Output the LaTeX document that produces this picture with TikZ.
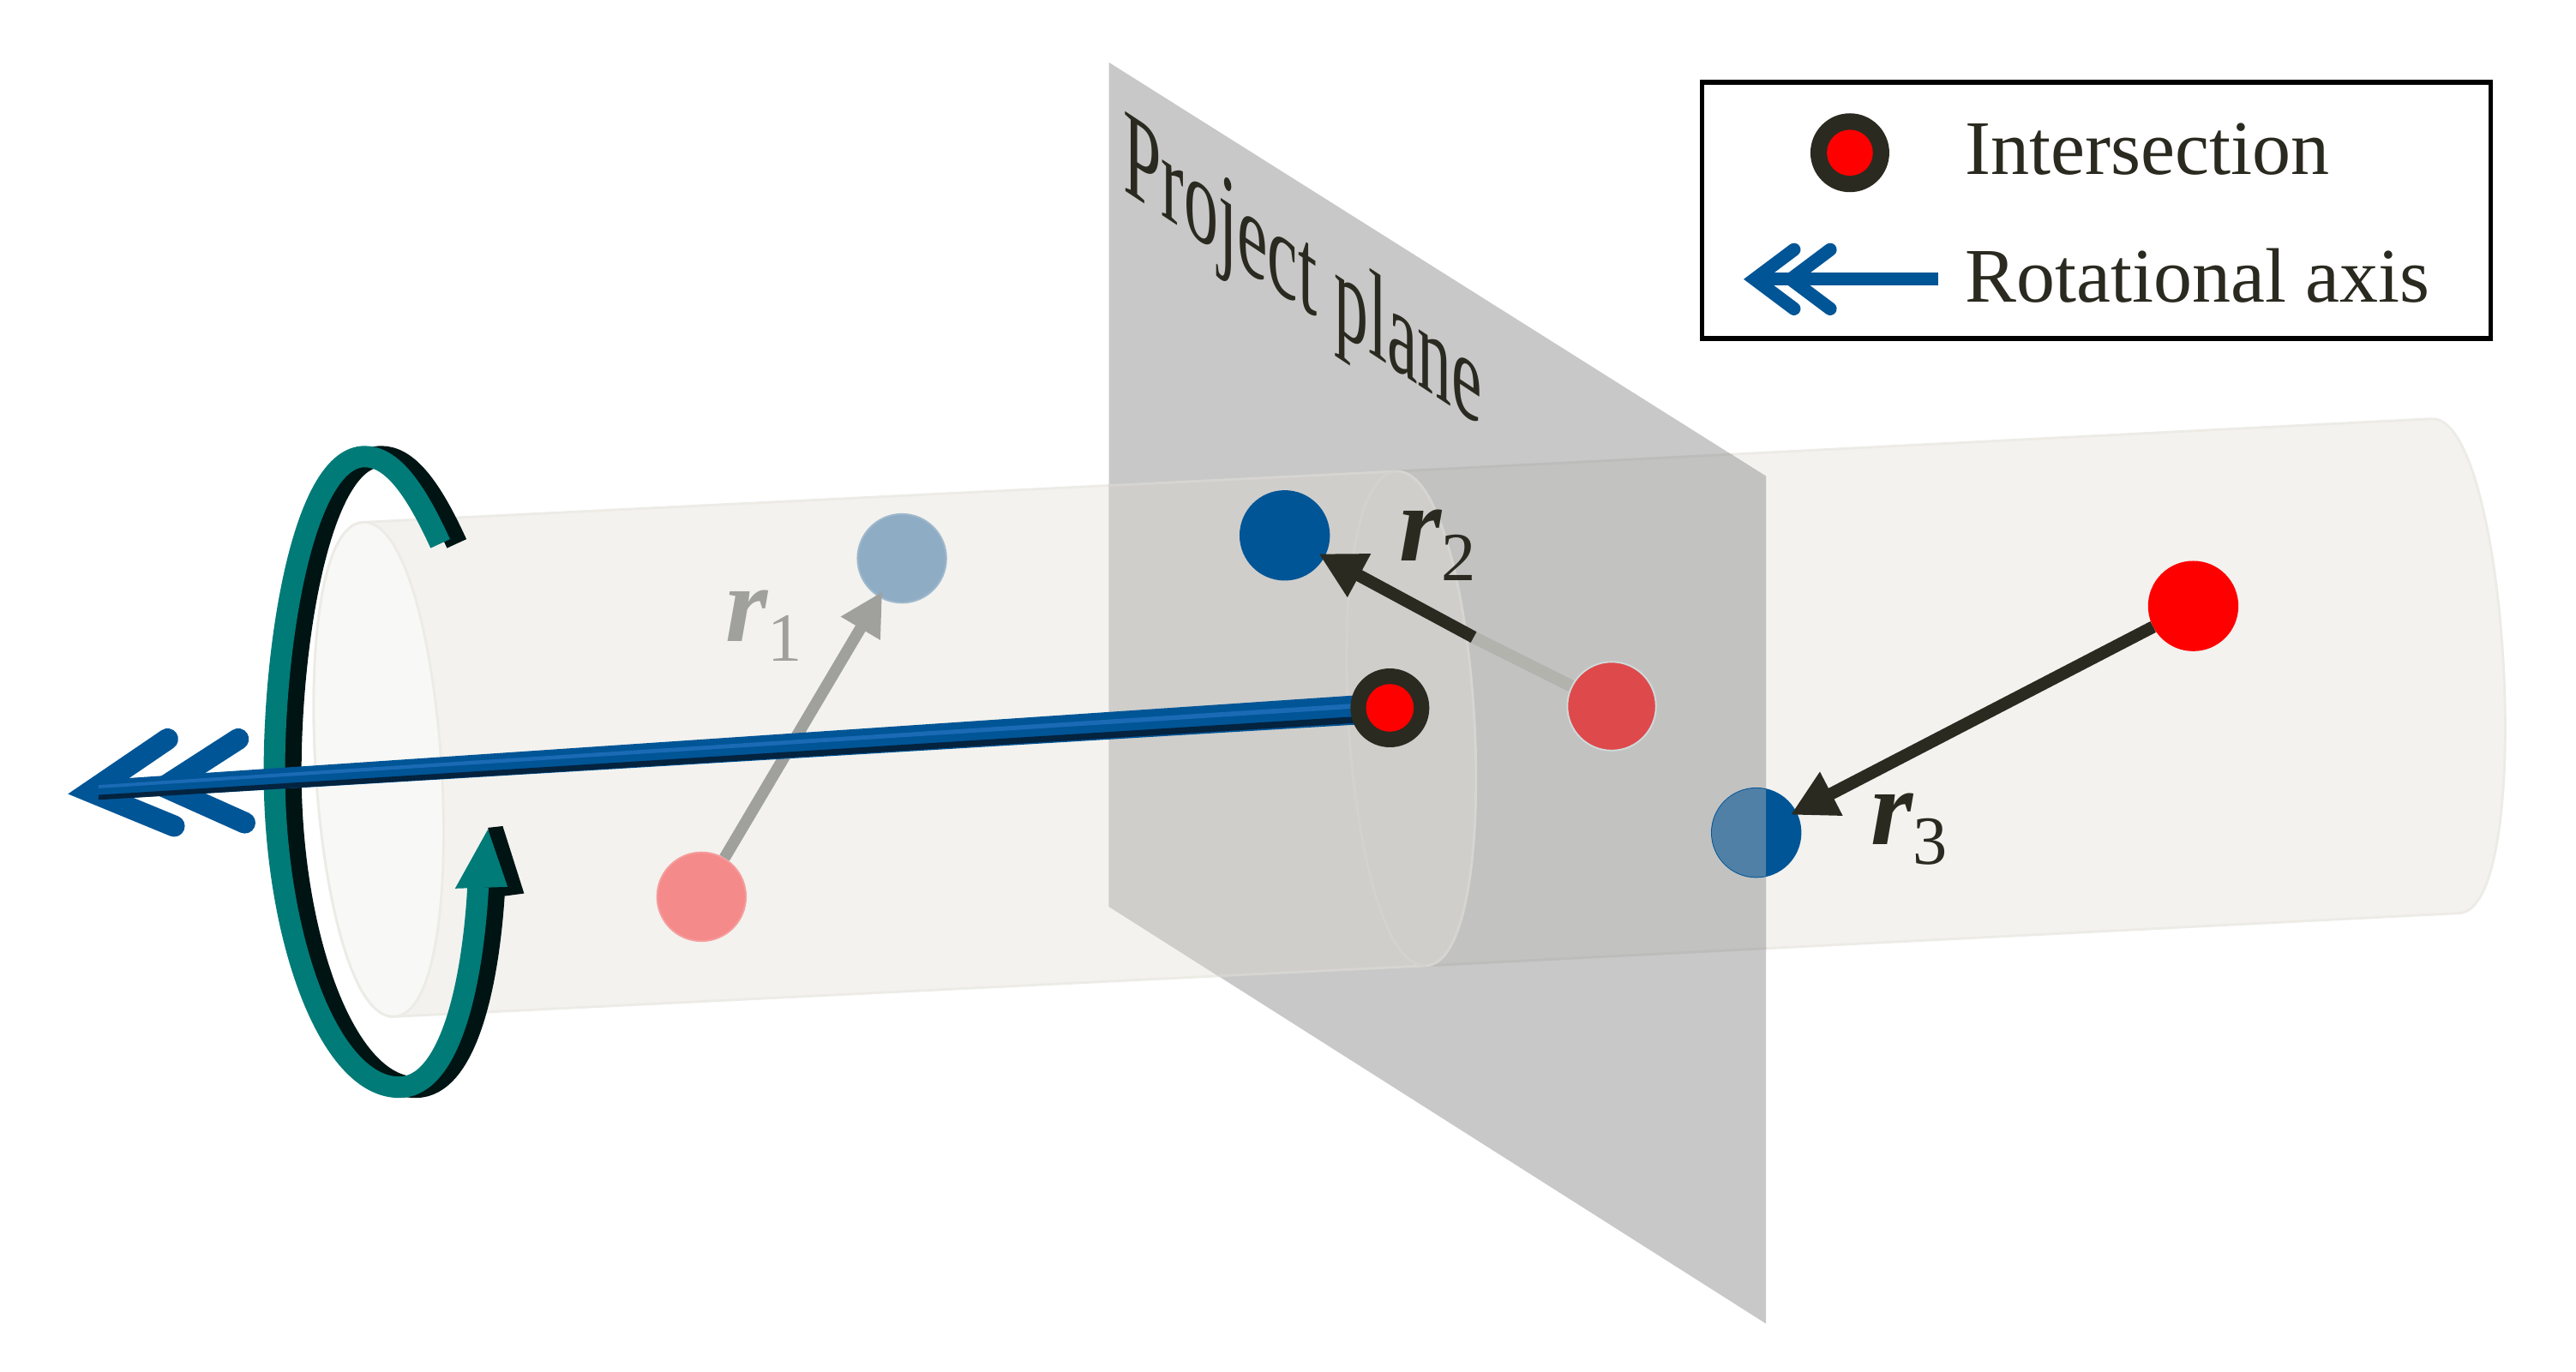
\documentclass[tikz,border=0pt]{standalone}
\usepackage{fontspec}
\setmainfont{Liberation Serif}
\usetikzlibrary{arrows.meta,calc}
\definecolor{ink}{HTML}{2A2A20}
\definecolor{cyl}{HTML}{F3F2EE}
\definecolor{cyledge}{HTML}{ECEBE6}
\definecolor{capface}{HTML}{F8F8F6}
\definecolor{planec}{HTML}{C8C8C8}
\definecolor{cylR}{HTML}{C2C2C1}
\definecolor{cylL}{HTML}{CFCECB}
\definecolor{midedge}{HTML}{D6D5D1}
\definecolor{bluedk}{HTML}{005596}
\definecolor{bluefade}{HTML}{8EACC4}
\definecolor{bluehalf}{HTML}{5080A6}
\definecolor{pinkc}{HTML}{F48A8A}
\definecolor{redsoft}{HTML}{DE4A4C}
\definecolor{halo}{HTML}{CFDADA}
\definecolor{axisdk}{HTML}{03233F}
\definecolor{axislt}{HTML}{1A6AB5}
\definecolor{teal1}{HTML}{007B78}
\definecolor{tealbk}{HTML}{001414}
\definecolor{fadearrow}{HTML}{A0A09C}
\definecolor{grayseg}{HTML}{B3B3AE}
\tikzset{
  dot/.style={circle,minimum size=54pt,inner sep=0pt,line width=1pt,draw=#1},
  lbl/.style={inner sep=0pt,text=ink},
  rvec/.style={line width=7.5pt,color=ink,-{Triangle[length=28pt,width=28pt]},shorten >=-4pt},
  chev/.style={line width=13pt,color=bluedk,line cap=round,line join=miter},
  legchev/.style={line width=8pt,color=bluedk,line cap=round,line join=miter},
  tealpath/.style={line width=13pt,line cap=butt,line join=round},
}
\def\rfont{\fontsize{66}{66}\selectfont\bfseries\itshape}
\def\sfont{\fontsize{42}{42}\selectfont}
\def\bodyL{(221,318) -- (850,287) .. controls (901,284.5) and (919,585.5) .. (868,588) -- (240,619) .. controls (189,621.5) and (170,320.5) .. (221,318) -- cycle}
\def\bodyR{(850,287) -- (1480,255) .. controls (1527,252.5) and (1544,553.5) .. (1497,556) -- (868,588) -- cycle}
\def\planepath{(675,38) -- (1075,290) -- (1075,806) -- (675,552) -- cycle}
\def\tealcurve{(268,331) .. controls (252,296) and (238,278) .. (222,278) .. controls (185,278) and (167,390) .. (167,470) .. controls (167,570) and (200,662) .. (243,662) .. controls (275,662) and (288,595) .. (291,540)}
\begin{document}
\begin{tikzpicture}[x=1pt,y=-1pt]
\useasboundingbox (0,0) rectangle (1568,835);
% cylinder
\fill[cyl,draw=cyledge,line width=1.5pt] \bodyR;
\fill[cyl,draw=cyledge,line width=1.5pt] \bodyL;
\fill[capface,draw=cyledge,line width=1.5pt] (221,318) .. controls (272,315.5) and (291,616.5) .. (240,619) .. controls (189,621.5) and (170,320.5) .. (221,318) -- cycle;
% plane
\fill[planec] \planepath;
\begin{scope}
  \clip \planepath;
  \fill[cylR,draw=cylR!97!black,line width=1.5pt] \bodyR;
  \fill[cylL,draw=midedge,line width=1.5pt] \bodyL;
  \draw[midedge!60!cylL,line width=1.5pt] (850,287) .. controls (799,289.5) and (817,590.5) .. (868,588);
\end{scope}
\begin{scope}[cm={0.563,-0.372,0,1,(793,170)}]
  \node[lbl,transform shape,font=\fontsize{74}{74}\selectfont] (ptitle) at (0,0) {Project plane};
\end{scope}
% points
\node[dot=bluefade!85!white,fill=bluefade] (b1) at (549,340) {};
\node[dot=pinkc!85!white,fill=pinkc] (p1) at (427,546) {};
\node[dot=bluedk,fill=bluedk] (b2) at (782,326) {};
\node[dot=halo,fill=redsoft] (p2) at (981,430) {};
\node[dot=bluedk,fill=bluedk] (b3) at (1069,507) {};
\begin{scope}
  \clip \planepath;
  \fill[bluehalf] (b3) circle (27pt);
\end{scope}
\node[dot=red,fill=red] (p3) at (1335,369) {};
% vectors
\coordinate (m2) at (897,388);
\draw[line width=7pt,color=fadearrow,-{Triangle[length=26pt,width=26pt]},shorten >=-4pt] (p1) -- (b1);
\draw[line width=7.5pt,color=grayseg] (p2) -- (m2);
\draw[rvec] (m2) -- (b2);
\draw[rvec] (p3) -- (b3);
\node[lbl,text=fadearrow] (r1) at (465,381) {{\rfont r}\raisebox{-12pt}{\sfont 1}};
\node[lbl] (r2) at (875,332) {{\rfont r}\raisebox{-12pt}{\sfont 2}};
\node[lbl] (r3) at (1162,505) {{\rfont r}\raisebox{-12pt}{\sfont 3}};
% rotation arrow
\begin{scope}[xshift=10pt]
  \draw[tealbk,tealpath] \tealcurve;
\end{scope}
\fill[tealbk] (297,504) -- (306,503) -- (319,544) -- (304,546) -- cycle;
\draw[teal1,tealpath] \tealcurve;
\fill[teal1] (297,505) -- (277,541) -- (309,540) -- cycle;
% axis
\coordinate (ic) at (846,431);
\coordinate (tip) at (60,481);
\coordinate (v1) at (55,482);
\coordinate (v2) at (100,479);
\coordinate (a1) at (102,450);
\coordinate (a2) at (106,503);
\coordinate (a3) at (145,450);
\coordinate (a4) at (149,501);
\draw[chev] (a1) -- (v1) -- (a2);
\draw[chev] (a3) -- (v2) -- (a4);
\fill[bluedk] ($(ic)+(0,-9)$) -- ($(tip)+(0,-6)$) -- ($(tip)+(0,6)$) -- ($(ic)+(0,9)$) -- cycle;
\fill[axisdk] ($(ic)+(0,4)$) -- ($(tip)+(0,3)$) -- ($(tip)+(0,6)$) -- ($(ic)+(0,8)$) -- cycle;
\fill[axislt] ($(ic)+(0,-4)$) -- ($(tip)+(0,-3)$) -- ($(tip)+(0,-1)$) -- ($(ic)+(0,-1)$) -- cycle;
\node[circle,fill=ink,minimum size=48pt,inner sep=0pt] (inter) at (ic) {};
\node[circle,fill=red,minimum size=29pt,inner sep=0pt] (interc) at (ic) {};
% legend
\node[draw=black,line width=3pt,fill=white,minimum width=480pt,minimum height=156pt,inner sep=0pt] (legend) at (1276,128) {};
\node[circle,fill=ink,minimum size=48pt,inner sep=0pt] (lg1) at (1126,93) {};
\node[circle,fill=red,minimum size=28pt,inner sep=0pt] (lg1c) at (1126,93) {};
\node[lbl,anchor=west,font=\fontsize{47}{47}\selectfont] (lt1) at (1196,91) {Intersection};
\node[lbl,anchor=west,xscale=0.998,font=\fontsize{47}{47}\selectfont] (lt2) at (1196,168) {Rotational axis};
\coordinate (ls) at (1180,170);
\coordinate (lv1) at (1068,170);
\coordinate (lv2) at (1090,170);
\coordinate (la1) at (1092,152);
\coordinate (la2) at (1092,188);
\coordinate (la3) at (1114,152);
\coordinate (la4) at (1114,188);
\draw[legchev] (la1) -- (lv1) -- (la2);
\draw[legchev] (la3) -- (lv2) -- (la4);
\draw[line width=8pt,color=bluedk] (ls) -- (lv1);
\end{tikzpicture}
\end{document}
